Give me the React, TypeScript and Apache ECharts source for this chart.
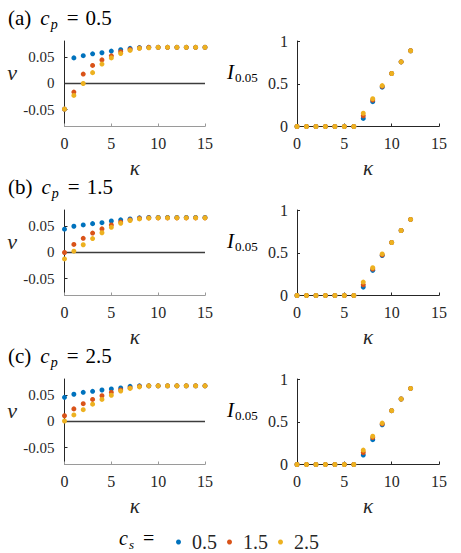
import React, { useEffect, useRef } from "react";
import * as echarts from "echarts";

// κ values on the horizontal axes
const kappa = [0, 1, 2, 3, 4, 5, 6, 7, 8, 9, 10, 11, 12, 13, 14, 15];
const kappaI = [0, 1, 2, 3, 4, 5, 6, 7, 8, 9, 10, 11, 12];

const panelLetters = ["(a)", "(b)", "(c)"];
const cpValues = ["0.5", "1.5", "2.5"];
const csValues = ["0.5", "1.5", "2.5"];
const csColors = ["#0072BD", "#D95319", "#EDB120"];

const vTicks = [-0.05, 0, 0.05];
const iTicks = [0, 0.5, 1];

// v(κ), c_p = 0.5
const vCp05Cs05 = [-0.0488, 0.0488, 0.053, 0.0566, 0.0586, 0.0617, 0.0644, 0.067, 0.0684, 0.069, 0.069, 0.069, 0.069, 0.069, 0.069, 0.069];
const vCp05Cs15 = [-0.0488, -0.0164, 0.018, 0.0344, 0.045, 0.0527, 0.0605, 0.065, 0.0676, 0.069, 0.069, 0.069, 0.069, 0.069, 0.069, 0.069];
const vCp05Cs25 = [-0.0488, -0.0228, 0.0, 0.0207, 0.037, 0.0488, 0.057, 0.063, 0.067, 0.068, 0.069, 0.069, 0.069, 0.069, 0.069, 0.069];
// v(κ), c_p = 1.5
const vCp15Cs05 = [0.0444, 0.05, 0.0525, 0.055, 0.0568, 0.06, 0.0623, 0.064, 0.066, 0.0667, 0.0667, 0.0667, 0.0667, 0.0667, 0.0667, 0.0667];
const vCp15Cs15 = [0.0, 0.0154, 0.027, 0.037, 0.045, 0.0525, 0.058, 0.0623, 0.065, 0.066, 0.066, 0.066, 0.066, 0.066, 0.066, 0.066];
const vCp15Cs25 = [-0.0123, 0.0025, 0.0148, 0.0265, 0.0377, 0.048, 0.0556, 0.061, 0.064, 0.0654, 0.066, 0.066, 0.066, 0.066, 0.066, 0.066];
// v(κ), c_p = 2.5
const vCp25Cs05 = [0.046, 0.052, 0.0556, 0.0575, 0.06, 0.062, 0.064, 0.067, 0.068, 0.068, 0.068, 0.068, 0.068, 0.068, 0.068, 0.068];
const vCp25Cs15 = [0.011, 0.024, 0.034, 0.042, 0.049, 0.0556, 0.06, 0.064, 0.067, 0.068, 0.068, 0.068, 0.068, 0.068, 0.068, 0.068];
const vCp25Cs25 = [0.001, 0.0125, 0.0225, 0.033, 0.042, 0.05, 0.058, 0.063, 0.066, 0.068, 0.068, 0.068, 0.068, 0.068, 0.068, 0.068];

// I_0.05(κ), c_p = 0.5
const iCp05Cs05 = [0, 0, 0, 0, 0, 0, 0, 0.095, 0.29, 0.46, 0.62, 0.756, 0.886];
const iCp05Cs15 = [0, 0, 0, 0, 0, 0, 0, 0.125, 0.31, 0.47, 0.62, 0.756, 0.886];
const iCp05Cs25 = [0, 0, 0, 0, 0, 0, 0, 0.155, 0.325, 0.478, 0.62, 0.756, 0.886];
// I_0.05(κ), c_p = 1.5
const iCp15Cs05 = [0, 0, 0, 0, 0, 0, 0, 0.098, 0.294, 0.467, 0.62, 0.76, 0.89];
const iCp15Cs15 = [0, 0, 0, 0, 0, 0, 0, 0.125, 0.31, 0.475, 0.62, 0.76, 0.89];
const iCp15Cs25 = [0, 0, 0, 0, 0, 0, 0, 0.157, 0.325, 0.486, 0.62, 0.76, 0.89];
// I_0.05(κ), c_p = 2.5
const iCp25Cs05 = [0, 0, 0, 0, 0, 0, 0, 0.11, 0.29, 0.465, 0.63, 0.766, 0.89];
const iCp25Cs15 = [0, 0, 0, 0, 0, 0, 0, 0.14, 0.315, 0.475, 0.63, 0.766, 0.89];
const iCp25Cs25 = [0, 0, 0, 0, 0, 0, 0, 0.168, 0.33, 0.484, 0.63, 0.766, 0.89];

const vByPanel = [
  [vCp05Cs05, vCp05Cs15, vCp05Cs25],
  [vCp15Cs05, vCp15Cs15, vCp15Cs25],
  [vCp25Cs05, vCp25Cs15, vCp25Cs25],
];
const iByPanel = [
  [iCp05Cs05, iCp05Cs15, iCp05Cs25],
  [iCp15Cs05, iCp15Cs15, iCp15Cs25],
  [iCp25Cs05, iCp25Cs15, iCp25Cs25],
];

const FONT = "Liberation Serif";
const INK = "#262626";

const PANEL_TOPS = [41, 210, 379];
const PANEL_H = 85.5;
const LEFT_GRID = { left: 64.5, width: 140.5 };
const RIGHT_GRID = { left: 297, width: 142 };

const tickFmt = (v: number) => (Math.abs(v) < 1e-9 ? "0" : String(v));

function richStyles(main: number, sub: number, subDrop: number) {
  return {
    n: { fontFamily: FONT, fontSize: main, color: INK },
    i: { fontFamily: FONT, fontSize: main, fontStyle: "italic", color: INK },
    ip: { fontFamily: FONT, fontSize: main, fontStyle: "italic", color: INK, padding: [0, 0, 0, 9] },
    s: { fontFamily: FONT, fontSize: sub, fontStyle: "italic", color: INK, padding: [subDrop, 0, 0, 1] },
    sn: { fontFamily: FONT, fontSize: sub, color: INK, padding: [subDrop, 0, 0, 1] },
    e: { fontFamily: FONT, fontSize: main, color: INK, padding: [0, 7, 0, 9] },
  };
}

function xAxisFor(gridIndex: number, lineColor: string) {
  return {
    type: "value",
    gridIndex,
    min: 0,
    max: 15,
    interval: 5,
    axisLine: { show: true, onZero: false, lineStyle: { color: lineColor, width: 1 } },
    axisTick: { show: true, inside: true, length: 3, lineStyle: { color: lineColor } },
    axisLabel: { fontFamily: FONT, fontSize: 16, color: INK, margin: 9, formatter: tickFmt },
    splitLine: { show: false },
    name: "κ",
    nameLocation: "middle",
    nameGap: 31,
    nameTextStyle: { fontFamily: FONT, fontSize: 21, fontStyle: "italic", color: INK },
  };
}

const App: React.FC = () => {
  const ref = useRef<HTMLDivElement>(null);

  useEffect(() => {
    if (!ref.current) return;
    const chart = echarts.init(ref.current, undefined, { renderer: "svg" });

    const grid: any[] = [];
    const xAxis: any[] = [];
    const yAxis: any[] = [];
    const series: any[] = [];
    const graphic: any[] = [];

    PANEL_TOPS.forEach((top, p) => {
      // left: velocity panel
      const gL = grid.length;
      grid.push({ left: LEFT_GRID.left, width: LEFT_GRID.width, top, height: PANEL_H });
      xAxis.push(xAxisFor(gL, "#9a9a9a"));
      yAxis.push({
        type: "value",
        gridIndex: gL,
        min: -0.082,
        max: 0.081,
        axisLine: { show: true, onZero: false, lineStyle: { color: INK, width: 1 } },
        axisTick: { show: true, inside: true, length: 3, customValues: vTicks, lineStyle: { color: INK } },
        axisLabel: { fontFamily: FONT, fontSize: 15, color: INK, margin: 10, customValues: vTicks, formatter: tickFmt },
        splitLine: { show: false },
      });
      // v = 0 reference line
      series.push({
        type: "line",
        name: "v = 0",
        xAxisIndex: gL,
        yAxisIndex: gL,
        data: [
          [kappa[0], 0],
          [kappa[kappa.length - 1], 0],
        ],
        symbol: "none",
        silent: true,
        z: 1,
        lineStyle: { color: "#3c3c3c", width: 1.5 },
      });
      vByPanel[p].forEach((vals, s) => {
        series.push({
          type: "scatter",
          name: csValues[s],
          xAxisIndex: gL,
          yAxisIndex: gL,
          data: kappa.map((k, j) => [k, vals[j]]),
          symbolSize: 5,
          z: 2 + s,
          itemStyle: { color: csColors[s], opacity: 1 },
        });
      });

      // right: I_0.05 panel
      const gR = grid.length;
      grid.push({ left: RIGHT_GRID.left, width: RIGHT_GRID.width, top, height: PANEL_H });
      xAxis.push(xAxisFor(gR, INK));
      yAxis.push({
        type: "value",
        gridIndex: gR,
        min: 0,
        max: 1,
        interval: 0.5,
        axisLine: { show: true, onZero: false, lineStyle: { color: INK, width: 1 } },
        axisTick: { show: true, inside: true, length: 3, lineStyle: { color: INK } },
        axisLabel: { fontFamily: FONT, fontSize: 16, color: INK, margin: 9, formatter: tickFmt, customValues: iTicks },
        splitLine: { show: false },
      });
      iByPanel[p].forEach((vals, s) => {
        series.push({
          type: "scatter",
          name: csValues[s],
          xAxisIndex: gR,
          yAxisIndex: gR,
          data: kappaI.map((k, j) => [k, vals[j]]),
          symbolSize: 5,
          z: 2 + s,
          itemStyle: { color: csColors[s], opacity: 1 },
        });
      });

      // panel title, e.g. (a) c_p = 0.5
      graphic.push({
        type: "text",
        x: 8,
        y: top - 23,
        style: {
          text: `{n|${panelLetters[p]}}{ip|c}{s|p}{e|=}{n|${cpValues[p]}}`,
          rich: richStyles(21, 14, 13),
          verticalAlign: "middle",
        },
      });
      // y-axis labels
      graphic.push({
        type: "text",
        x: 12,
        y: top + 31,
        style: {
          text: "v",
          fontFamily: FONT,
          fontSize: 22,
          fontStyle: "italic",
          fill: INK,
          align: "center",
          verticalAlign: "middle",
        },
      });
      graphic.push({
        type: "text",
        x: 227,
        y: top + 31,
        style: {
          text: "{i|I}{sn|0.05}",
          rich: richStyles(21, 13, 11),
          verticalAlign: "middle",
        },
      });
    });

    // legend prefix: c_s =
    graphic.push({
      type: "text",
      x: 119,
      y: 538,
      style: {
        text: "{i|c}{s|s}{e|=}",
        rich: richStyles(20, 13, 12),
        verticalAlign: "middle",
      },
    });

    chart.setOption({
      animation: false,
      backgroundColor: "#ffffff",
      grid,
      xAxis,
      yAxis,
      series,
      graphic,
      legend: {
        data: csValues,
        left: 171,
        top: 527,
        icon: "circle",
        itemWidth: 5,
        itemHeight: 5,
        itemGap: 10,
        selectedMode: false,
        textStyle: { fontFamily: FONT, fontSize: 20, color: INK, padding: [0, 0, 0, 6] },
      },
    });

    return () => chart.dispose();
  }, []);

  return (
    <div
      ref={ref}
      style={{ position: "absolute", left: 0, top: 0, width: 461, height: 553, background: "#fff" }}
    />
  );
};

export default App;
